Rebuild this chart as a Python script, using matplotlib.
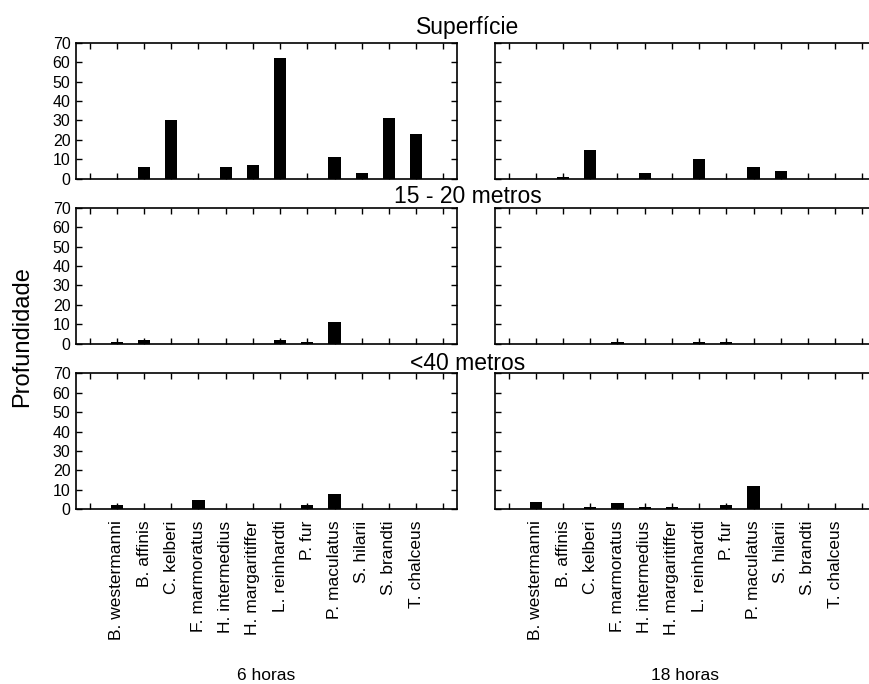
import matplotlib
matplotlib.use('Agg')
import matplotlib.pyplot as plt
import numpy as np

species = ["B. westermanni", "B. affinis", "C. kelberi", "F. marmoratus",
           "H. intermedius", "H. margaritiffer", "L. reinhardti", "P. fur",
           "P. maculatus", "S. hilarii", "S. brandti", "T. chalceus"]
depths = ["Superfície", "15 - 20 metros", "<40 metros"]
times = ["6 horas", "18 horas"]
y_label = "Profundidade"
y_ticks = [0, 10, 20, 30, 40, 50, 60, 70]

sup_6h = [0, 6, 30, 0, 6, 7, 62, 0, 11, 3, 31, 23]
sup_18h = [0, 1, 15, 0, 3, 0, 10, 0, 6, 4, 0, 0]
mid_6h = [1, 2, 0, 0, 0, 0, 2, 1, 11, 0, 0, 0]
mid_18h = [0, 0, 0, 1, 0, 0, 1, 1, 0, 0, 0, 0]
deep_6h = [2, 0, 0, 5, 0, 0, 0, 2, 8, 0, 0, 0]
deep_18h = [4, 0, 1, 3, 1, 1, 0, 2, 12, 0, 0, 0]

grid = [[sup_6h, sup_18h], [mid_6h, mid_18h], [deep_6h, deep_18h]]

plt.rcParams['font.family'] = ['Liberation Sans', 'DejaVu Sans']

W, H = 870, 684
fig = plt.figure(figsize=(W / 100, H / 100), dpi=100)

col_left = [76, 495]
col_w = 381
row_top = [42.7, 207.7, 373.3]
row_h = 136

x = np.arange(1, len(species) + 1)
tick_pos = np.arange(0, len(species) + 2)
tick_lab = [''] + species + ['']

for r in range(3):
    for c in range(2):
        ax = fig.add_axes([col_left[c] / W, 1 - (row_top[r] + row_h) / H,
                           col_w / W, row_h / H])
        vals = np.array(grid[r][c], dtype=float)
        mask = vals > 0
        ax.bar(x[mask], vals[mask], width=0.45, color='black', linewidth=0)
        ax.set_xlim(-0.5, len(species) + 1.5)
        ax.set_ylim(0, 70)
        ax.set_yticks(y_ticks)
        ax.set_xticks(tick_pos)
        ax.tick_params(direction='in', top=True, right=True, length=4,
                       width=1.0, labelsize=11.5, pad=4)
        for s in ax.spines.values():
            s.set_linewidth(1.2)
        if c == 1:
            ax.set_yticklabels([])
        if r == 2:
            ax.set_xticklabels(tick_lab, rotation=90, fontsize=12.5)
            ax.tick_params(axis='x', pad=8)
        else:
            ax.set_xticklabels([])

title_y = [34, 203, 370]
for r in range(3):
    fig.text(468 / W, 1 - title_y[r] / H, depths[r], ha='center',
             va='baseline', fontsize=16.5)

fig.text(266.5 / W, 1 - 676 / H, times[0], ha='center', va='center', fontsize=12.5)
fig.text(685.5 / W, 1 - 676 / H, times[1], ha='center', va='center', fontsize=12.5)
fig.text(22 / W, 1 - 337 / H, y_label, rotation=90, ha='center', va='center',
         fontsize=17)

fig.savefig('out.png', dpi=100)
